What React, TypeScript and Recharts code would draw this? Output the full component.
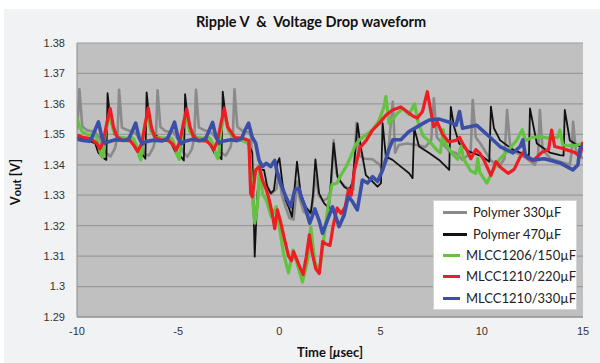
import React from 'react'
import { LineChart, Line, XAxis, YAxis, CartesianGrid, Legend } from 'recharts'

const timeTicks = [-10, -5, 0, 5, 10, 15]
const voltTicks = [1.29, 1.3, 1.31, 1.32, 1.33, 1.34, 1.35, 1.36, 1.37, 1.38]

// [time µs, Vout V]
const polymer330 = [
  [-10, 1.3515], [-9.95, 1.356], [-9.88, 1.3648], [-9.74, 1.3526], [-9.5, 1.3513], [-9.1, 1.3508], [-8.85, 1.3484], [-8.6, 1.3441], [-8.35, 1.3427], [-8.12, 1.3455], [-8.0, 1.3492],
  [-7.92, 1.3646], [-7.78, 1.3522], [-7.55, 1.3515], [-7.15, 1.3506], [-6.9, 1.3487], [-6.68, 1.3437], [-6.45, 1.343], [-6.22, 1.3458], [-6.1, 1.3495],
  [-6.02, 1.3645], [-5.88, 1.3524], [-5.62, 1.351], [-5.25, 1.3509], [-5.0, 1.3482], [-4.78, 1.3444], [-4.55, 1.3426], [-4.32, 1.3452], [-4.2, 1.3493],
  [-4.12, 1.3646], [-3.98, 1.3523], [-3.72, 1.3514], [-3.35, 1.3505], [-3.1, 1.3486], [-2.88, 1.344], [-2.65, 1.343], [-2.42, 1.3457], [-2.3, 1.3496],
  [-2.22, 1.3648], [-2.08, 1.3525], [-1.82, 1.3511], [-1.55, 1.3507], [-1.4, 1.3495],
  [-1.3, 1.3262], [-1.17, 1.3225], [-1.05, 1.33], [-0.95, 1.3365], [-0.8, 1.3345], [-0.6, 1.333], [-0.4, 1.3305], [-0.15, 1.332], [-0.02, 1.337], [0.12, 1.33], [0.3, 1.3262], [0.5, 1.3225], [0.7, 1.322],
  [0.88, 1.3345], [1.0, 1.329], [1.2, 1.3245], [1.45, 1.3235], [1.62, 1.3265], [1.78, 1.3365], [1.95, 1.33], [2.15, 1.3282], [2.4, 1.329], [2.55, 1.332], [2.68, 1.348], [2.82, 1.3372],
  [3.0, 1.3345], [3.3, 1.3325], [3.65, 1.3318], [3.81, 1.3537], [3.95, 1.343], [4.2, 1.342], [4.6, 1.3418], [4.95, 1.34], [5.1, 1.3383], [5.35, 1.342], [5.6, 1.3607], [5.72, 1.344],
  [5.9, 1.3465], [6.3, 1.347], [6.8, 1.3465], [7.2, 1.3458], [7.5, 1.348], [7.63, 1.3618], [7.78, 1.349], [8.06, 1.347], [8.39, 1.3445], [8.72, 1.3439], [9.05, 1.3416], [9.45, 1.344],
  [9.55, 1.3613], [9.7, 1.349], [9.93, 1.347], [10.43, 1.3416], [10.85, 1.3394], [11.12, 1.342], [11.25, 1.358], [11.4, 1.346], [11.7, 1.344], [12.23, 1.342], [12.62, 1.34], [12.78, 1.343],
  [12.87, 1.358], [13.0, 1.345], [13.4, 1.342], [13.86, 1.341], [14.35, 1.34], [14.44, 1.344], [14.51, 1.3541], [14.65, 1.3445], [15, 1.342],
]

const polymer470 = [
  [-10, 1.3488], [-9.5, 1.3482], [-9.1, 1.347], [-8.95, 1.344], [-8.75, 1.3425], [-8.55, 1.3416], [-8.49, 1.3635], [-8.35, 1.3547], [-8.15, 1.35], [-7.85, 1.3488], [-7.4, 1.3485],
  [-7.2, 1.3462], [-7.0, 1.344], [-6.75, 1.3432], [-6.62, 1.342], [-6.56, 1.3638], [-6.42, 1.3545], [-6.2, 1.3498], [-5.9, 1.3489], [-5.5, 1.3486],
  [-5.3, 1.3465], [-5.1, 1.3437], [-4.85, 1.3425], [-4.72, 1.3414], [-4.66, 1.3632], [-4.52, 1.3546], [-4.3, 1.3499], [-4.0, 1.3488], [-3.6, 1.3485],
  [-3.4, 1.3463], [-3.2, 1.3438], [-2.98, 1.3428], [-2.86, 1.3418], [-2.8, 1.364], [-2.66, 1.356], [-2.45, 1.3505], [-2.1, 1.3482], [-1.7, 1.3478], [-1.5, 1.3465], [-1.34, 1.344],
  [-1.22, 1.3098], [-1.09, 1.3307], [-0.92, 1.3383], [-0.76, 1.3383], [-0.6, 1.3328], [-0.43, 1.3306], [-0.27, 1.3317], [-0.1, 1.3405], [0.0, 1.3422], [0.15, 1.334], [0.31, 1.3284],
  [0.45, 1.3262], [0.62, 1.3229], [0.87, 1.341], [1.05, 1.3306], [1.3, 1.3262], [1.55, 1.3241], [1.66, 1.33], [1.78, 1.3418], [1.96, 1.3306], [2.21, 1.3273], [2.45, 1.3258],
  [2.68, 1.3471], [2.87, 1.3361], [3.2, 1.3328], [3.45, 1.3317], [3.62, 1.3345], [3.86, 1.3536], [4.02, 1.346], [4.27, 1.3366], [4.6, 1.3345], [4.85, 1.3328], [5.02, 1.334],
  [5.1, 1.3537], [5.26, 1.3427], [5.59, 1.3416], [6.0, 1.3394], [6.41, 1.3372], [6.58, 1.3356], [6.66, 1.352], [6.9, 1.346], [7.4, 1.3439], [7.89, 1.3416], [8.39, 1.3383],
  [8.47, 1.359], [8.63, 1.3525], [8.88, 1.347], [9.38, 1.3443], [10.04, 1.3427], [10.37, 1.341], [10.45, 1.3591], [10.6, 1.352], [10.9, 1.3481], [11.54, 1.3449], [12.23, 1.3432],
  [12.33, 1.3432], [12.38, 1.3585], [12.72, 1.347], [13.36, 1.344], [13.86, 1.3432], [14.04, 1.343], [14.1, 1.358], [14.35, 1.348], [14.84, 1.346], [15, 1.3455],
]

const mlcc1206_150 = [
  [-10, 1.3555], [-9.9, 1.353], [-9.75, 1.3509], [-9.5, 1.3499], [-9.1, 1.3497], [-8.95, 1.347], [-8.82, 1.3432], [-8.72, 1.3425], [-8.6, 1.3505], [-8.46, 1.3545], [-8.34, 1.3556],
  [-8.2, 1.3512], [-8.02, 1.3492], [-7.6, 1.3488], [-7.3, 1.349],
  [-7.2, 1.3485], [-7.05, 1.3462], [-6.94, 1.3432], [-6.85, 1.3416], [-6.72, 1.3505], [-6.6, 1.3547], [-6.48, 1.3553], [-6.33, 1.3508], [-6.15, 1.3491], [-5.75, 1.3488], [-5.4, 1.3489],
  [-5.3, 1.3486], [-5.15, 1.346], [-5.04, 1.343], [-4.95, 1.3418], [-4.82, 1.3503], [-4.7, 1.3546], [-4.58, 1.3555], [-4.43, 1.3509], [-4.25, 1.3492], [-3.85, 1.3488], [-3.5, 1.3489],
  [-3.4, 1.3485], [-3.25, 1.3461], [-3.12, 1.3431], [-3.03, 1.342], [-2.9, 1.3506], [-2.78, 1.3548], [-2.66, 1.3556], [-2.5, 1.351], [-2.32, 1.349], [-1.9, 1.3481], [-1.5, 1.347],
  [-1.36, 1.3328], [-1.22, 1.3208], [-1.09, 1.3262], [-0.97, 1.3405], [-0.84, 1.3306], [-0.65, 1.3284], [-0.4, 1.3229], [-0.15, 1.3262], [0.02, 1.3186], [0.2, 1.311],
  [0.45, 1.3045], [0.67, 1.312], [0.9, 1.307], [1.14, 1.3015], [1.4, 1.3087], [1.55, 1.3197], [1.75, 1.308], [1.98, 1.305], [2.18, 1.315], [2.4, 1.3262], [2.6, 1.3335],
  [2.85, 1.334], [3.05, 1.3368], [3.3, 1.3394], [3.55, 1.343], [3.75, 1.3465], [3.95, 1.3481], [4.27, 1.3498], [4.6, 1.3514], [4.93, 1.3547], [5.17, 1.3591], [5.26, 1.3624],
  [5.42, 1.3536], [5.83, 1.3569], [6.1, 1.3585], [6.4, 1.3565], [6.68, 1.36], [6.85, 1.354], [7.1, 1.3495], [7.45, 1.3475], [7.75, 1.345], [7.95, 1.344], [8.1, 1.3515],
  [8.2, 1.347], [8.5, 1.344], [8.8, 1.3418], [8.98, 1.3462], [9.1, 1.342], [9.45, 1.338], [9.7, 1.3372], [9.8, 1.342], [9.9, 1.3375], [10.25, 1.334], [10.55, 1.338],
  [10.85, 1.3416], [11.2, 1.344], [11.72, 1.348], [12.0, 1.3515], [12.15, 1.348], [12.5, 1.349], [12.87, 1.3492], [13.3, 1.3488], [13.75, 1.349], [13.86, 1.3514], [14.0, 1.3465],
  [14.5, 1.3462], [15, 1.347],
]

const mlcc1210_220 = [
  [-10, 1.3498], [-9.7, 1.349], [-9.3, 1.3485],
  [-9.02, 1.347], [-8.86, 1.3452], [-8.69, 1.348], [-8.53, 1.3536], [-8.36, 1.3585], [-8.2, 1.3525], [-8.03, 1.3492], [-7.76, 1.3481], [-7.36, 1.3478],
  [-7.2, 1.3465], [-7.0, 1.3444], [-6.8, 1.347], [-6.64, 1.353], [-6.48, 1.3587], [-6.32, 1.3522], [-6.15, 1.349], [-5.88, 1.3482], [-5.48, 1.3479],
  [-5.28, 1.3468], [-5.1, 1.3448], [-4.92, 1.3476], [-4.75, 1.3533], [-4.58, 1.3584], [-4.42, 1.3526], [-4.25, 1.3493], [-3.98, 1.348], [-3.6, 1.3478],
  [-3.42, 1.3467], [-3.24, 1.345], [-3.06, 1.3478], [-2.89, 1.3535], [-2.72, 1.3586], [-2.56, 1.3524], [-2.2, 1.3489], [-1.8, 1.3487], [-1.51, 1.348],
  [-1.42, 1.3306], [-1.34, 1.3295], [-1.17, 1.3383], [-1.0, 1.3394], [-0.84, 1.335], [-0.64, 1.3317], [-0.5, 1.3284], [-0.37, 1.3245], [-0.23, 1.319], [-0.1, 1.3252],
  [0.05, 1.3215], [0.26, 1.3153], [0.45, 1.31], [0.6, 1.3085], [0.7, 1.3115], [0.85, 1.309], [1.02, 1.3062], [1.17, 1.304], [1.33, 1.3098], [1.48, 1.317], [1.62, 1.311],
  [1.8, 1.3058], [1.97, 1.3043], [2.14, 1.3148], [2.3, 1.314], [2.5, 1.3135], [2.65, 1.3197], [2.85, 1.3258], [3.05, 1.324], [3.25, 1.3262], [3.42, 1.332], [3.55, 1.33],
  [3.7, 1.338], [3.85, 1.342], [3.97, 1.3455], [4.3, 1.3481], [4.6, 1.3514], [4.93, 1.3536], [5.26, 1.3563], [5.59, 1.358], [6.0, 1.359], [6.3, 1.3575], [6.6, 1.356],
  [6.8, 1.3553], [7.07, 1.3575], [7.31, 1.364], [7.47, 1.358], [7.62, 1.3525], [7.8, 1.354], [8.06, 1.35], [8.37, 1.3475], [8.72, 1.348], [8.9, 1.349], [9.05, 1.347],
  [9.25, 1.3449], [9.46, 1.342], [9.71, 1.345], [9.9, 1.3438], [10.1, 1.3416], [10.45, 1.3365], [10.7, 1.341], [10.95, 1.339], [11.3, 1.3372], [11.6, 1.3385], [11.85, 1.342],
  [12.03, 1.344], [12.3, 1.342], [12.55, 1.3414], [12.95, 1.344], [13.3, 1.345], [13.45, 1.3514], [13.6, 1.346], [13.9, 1.3455], [14.2, 1.3449], [14.6, 1.344], [14.84, 1.3427],
  [15, 1.3475],
]

const mlcc1210_330 = [
  [-10, 1.3484], [-9.7, 1.348], [-9.4, 1.3477], [-9.29, 1.3485], [-9.11, 1.3514], [-8.94, 1.3541], [-8.77, 1.349], [-8.61, 1.347], [-8.44, 1.3476], [-8.1, 1.3482], [-7.7, 1.348],
  [-7.45, 1.3484], [-7.27, 1.351], [-7.1, 1.3537], [-6.93, 1.3488], [-6.77, 1.3468], [-6.6, 1.3476], [-6.2, 1.3481], [-5.8, 1.3478],
  [-5.53, 1.3486], [-5.35, 1.3512], [-5.18, 1.354], [-5.01, 1.3489], [-4.85, 1.3469], [-4.68, 1.3477], [-4.3, 1.3483], [-3.95, 1.3479],
  [-3.65, 1.3485], [-3.47, 1.3513], [-3.3, 1.3539], [-3.13, 1.3491], [-2.97, 1.3471], [-2.8, 1.3477], [-2.4, 1.3482], [-2.1, 1.3479],
  [-1.87, 1.3486], [-1.69, 1.3515], [-1.52, 1.3537], [-1.35, 1.3492], [-1.17, 1.347], [-1.01, 1.3416], [-0.84, 1.3394], [-0.65, 1.3405], [-0.43, 1.3394], [-0.23, 1.3414],
  [-0.1, 1.3372], [0.06, 1.3339], [0.31, 1.3296], [0.56, 1.3262], [0.76, 1.3317], [0.96, 1.3323], [1.1, 1.329], [1.26, 1.3263], [1.5, 1.3208], [1.75, 1.3255], [1.97, 1.3215],
  [2.13, 1.3175], [2.3, 1.3205], [2.62, 1.3262], [2.95, 1.3197], [3.2, 1.3235], [3.4, 1.3296], [3.6, 1.328], [3.85, 1.3252], [4.1, 1.335], [4.35, 1.334], [4.6, 1.3361],
  [4.85, 1.3345], [5.1, 1.3383], [5.4, 1.3449], [5.6, 1.3482], [6.0, 1.3482], [6.4, 1.3509], [7.1, 1.3536], [7.4, 1.3547], [7.9, 1.355], [8.4, 1.354], [8.73, 1.353],
  [8.9, 1.3575], [9.05, 1.352], [9.74, 1.353], [10.38, 1.3492], [10.9, 1.346], [11.54, 1.3439], [11.9, 1.346], [12.03, 1.3482], [12.15, 1.343], [12.52, 1.3416], [13.1, 1.342],
  [13.86, 1.3406], [14.5, 1.3383], [14.75, 1.34], [14.84, 1.345], [15, 1.3465],
]

const series = [
  { name: 'Polymer 330µF', color: '#8a8a8a', width: 2.6, points: polymer330 },
  { name: 'Polymer 470µF', color: '#111111', width: 1.8, points: polymer470 },
  { name: 'MLCC1206/150µF', color: '#63c23f', width: 3.2, points: mlcc1206_150 },
  { name: 'MLCC1210/220µF', color: '#ee1d23', width: 3.2, points: mlcc1210_220 },
  { name: 'MLCC1210/330µF', color: '#3b4fa6', width: 3.6, points: mlcc1210_330 },
]

const toRows = (pts: number[][]) => pts.map(([t, v]) => ({ t, v }))

const tickStyle = { fill: '#333', fontSize: 11, fontFamily: '"Liberation Sans", Arial, sans-serif' }
const labelFont = 'Lato, "Open Sans", sans-serif'

function LegendBox() {
  return (
    <div
      style={{
        width: 144,
        height: 110,
        background: '#fff',
        border: '1px solid #d4d4d4',
        boxSizing: 'border-box',
        paddingTop: 1,
        paddingLeft: 9,
      }}
    >
      {series.map((s) => (
        <div key={s.name} style={{ display: 'flex', alignItems: 'center', height: 21.4 }}>
          <span style={{ display: 'inline-block', width: 24, height: 3, background: s.color, marginRight: 6 }} />
          <span style={{ fontSize: 13, color: '#222', fontFamily: labelFont, lineHeight: '15px' }}>{s.name}</span>
        </div>
      ))}
    </div>
  )
}

export default function App() {
  return (
    <div style={{ position: 'fixed', left: 0, top: 0, width: 600, height: 363, background: '#fff', overflow: 'hidden' }}>
      <div style={{ position: 'absolute', left: 4, top: 9, right: 0, bottom: 0, background: '#f1f2f4' }} />
      <div
        style={{
          position: 'absolute',
          top: 13,
          left: 0,
          width: 622,
          textAlign: 'center',
          fontFamily: labelFont,
          fontWeight: 700,
          fontSize: 14.5,
          color: '#111',
          whiteSpace: 'pre',
        }}
      >
        {'Ripple V  &  Voltage Drop waveform'}
      </div>
      <div style={{ position: 'absolute', left: 0, top: 0 }}>
        <LineChart width={600} height={363} margin={{ top: 43, right: 17, bottom: 0, left: 0 }}>
          <CartesianGrid vertical={false} fill="#c0c0c0" fillOpacity={1} stroke="#9a9a9a" strokeWidth={1.2} />
          <XAxis
            type="number"
            dataKey="t"
            domain={[-10, 15]}
            ticks={timeTicks}
            allowDataOverflow
            height={46}
            tickLine={false}
            tickSize={0}
            tickMargin={10}
            axisLine={{ stroke: '#8c8c8c' }}
            tick={tickStyle}
            label={{
              content: () => (
                <text x={330} y={357} textAnchor="middle" fontFamily={labelFont} fontWeight={700} fontSize={13} fill="#111">
                  Time [<tspan fontStyle="italic">μ</tspan>sec]
                </text>
              ),
            }}
          />
          <YAxis
            type="number"
            domain={[1.29, 1.38]}
            ticks={voltTicks}
            allowDataOverflow
            width={77}
            tickLine={false}
            tickSize={0}
            tickMargin={12}
            axisLine={{ stroke: '#8c8c8c' }}
            tick={tickStyle}
            tickFormatter={(v: number) => String(Number(v.toFixed(2)))}
            label={{
              content: () => (
                <text
                  x={20}
                  y={182}
                  transform="rotate(-90 20 182)"
                  textAnchor="middle"
                  fontFamily={labelFont}
                  fontWeight={700}
                  fontSize={13}
                  fill="#111"
                >
                  V<tspan fontSize={11} dy={1}>out</tspan>
                  <tspan dy={-1}> [V]</tspan>
                </text>
              ),
            }}
          />
          {series.map((s) => (
            <Line
              key={s.name}
              name={s.name}
              data={toRows(s.points)}
              dataKey="v"
              type="linear"
              stroke={s.color}
              strokeWidth={s.width}
              strokeLinejoin="round"
              dot={false}
              activeDot={false}
              isAnimationActive={false}
            />
          ))}
          <Legend
            layout="vertical"
            align="center"
            verticalAlign="middle"
            wrapperStyle={{ left: 433, top: 200, width: 144, height: 110 }}
            content={() => <LegendBox />}
          />
        </LineChart>
      </div>
    </div>
  )
}
